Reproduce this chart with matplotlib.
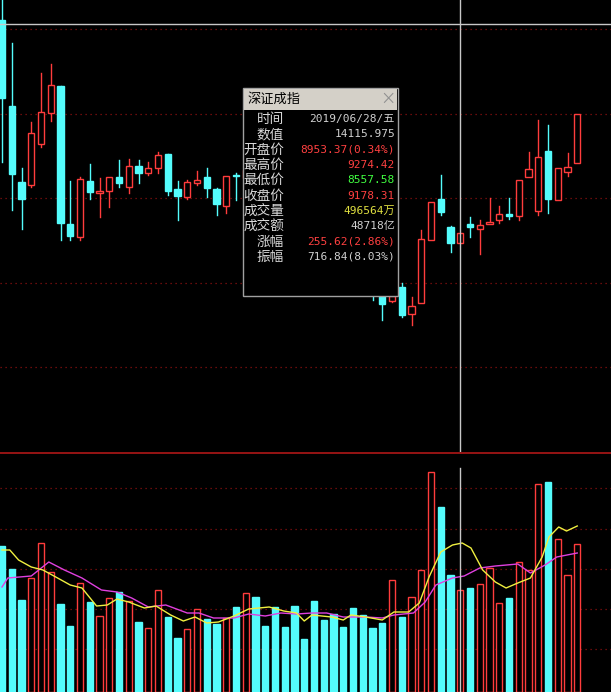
import matplotlib
matplotlib.use("Agg")
import matplotlib.pyplot as plt
from matplotlib.patches import Rectangle
import numpy as np

plt.rcParams['font.family'] = ['Noto Sans CJK SC', 'DejaVu Sans']

# Candle levels (screen level units, larger = lower on screen)
opens  = [20,106,182,185,144,113, 86,224,237,181,193,191,177,187,166,173,168,154,189,197,183,177,189,206,175,
          178,170,175,190,200,210,215,230,245,255,265,270,280,290,296,301,287,314,303,240,199,227,243,224,229,224,220,214,216,177,211,151,200,172,163]
closes = [98,174,199,133,112, 85,223,236,179,192,191,177,183,166,173,168,155,191,196,182,180,188,204,176,175,
          170,176,190,199,211,214,231,244,256,263,272,279,291,292,304,296,315,306,239,202,212,243,233,227,225,222,214,216,180,169,157,199,168,167,114]
highs  = [0, 43,168,122, 73, 64, 86,181,177,164,178,177,160,159,160,162,152,154,181,180,171,168,188,176,173,
          165,165,172,185,195,205,210,225,240,250,260,265,275,285,292,294,283,297,230,202,175,226,233,217,220,198,206,198,180,152,120,125,168,153,114]
lows   = [162,210,229,187,147,121,240,240,240,199,217,207,187,193,183,175,173,195,220,199,185,197,215,213,200,
          182,180,195,205,215,220,235,250,260,268,278,285,295,300,320,302,317,325,303,240,215,252,243,237,254,224,223,219,220,177,215,213,200,176,163]
volumes = [146,123,92,114,149,120,88,66,109,90,76,94,100,91,70,64,102,75,54,63,83,73,68,74,85,
           99,95,66,85,65,86,53,91,72,78,65,84,77,64,69,112,75,95,122,220,185,117,102,104,108,124,89,94,130,122,208,210,153,117,148]
ma5_idx = [0,0.8,1.7,3.0,4.2,5.7,7.0,8.2,9.7,10.8,11.8,13.0,14.6,15.8,17.3,18.6,19.8,21.0,22.2,23.8,25.3,27.4,28.9,30.2,31.0,
           31.8,33.8,35.0,35.8,37.3,39.0,40.2,41.7,42.8,43.8,45.0,46.2,47.2,48.1,49.3,50.6,51.7,52.9,54.2,55.4,56.1,57.1,57.9,59.0]
ma5 = [142,142,132,125,122,114,107,104,86,87,93,90,84,86,77,71,75,69,70,76,83,85,81,79,71,
       77,75,72,77,75,72,80,80,89,115,140,147,149,144,122,110,104,109,114,135,155,165,161,166]
ma10_idx = [0,0.6,3.0,4.8,6.4,8.2,10.2,11.8,13.3,15.0,16.8,19.0,20.2,21.7,23.8,25.3,27.0,28.6,30.2,31.8,33.3,35.0,37.3,39.0,40.2,
            42.2,43.4,44.5,46.2,47.4,49.0,50.6,52.9,54.2,55.7,56.9,59.0]
ma10 = [105,114,116,130,122,114,102,100,94,85,87,79,79,74,74,78,76,79,78,79,79,75,75,74,77,
        79,90,107,114,116,124,126,128,119,127,135,139]
info_labels = ['时间','数值','开盘价','最高价','最低价','收盘价','成交量','成交额','涨幅','振幅']
info_values = ['2019/06/28/五','14115.975','8953.37(0.34%)','9274.42','8557.58','9178.31','496564万','48718亿','255.62(2.86%)','716.84(8.03%)']
info_colors = ['#d0d0d0','#d0d0d0','#ff4040','#ff4040','#40ff40','#ff4040','#e0e040','#d0d0d0','#ff4040','#d0d0d0']
price_grid = [29,114,198,283,367]
vol_grid = [43,83,123,163,204]

W, H = 611, 692
CY = '#54fcfc'; RD = '#ff3c3c'; GRID = '#8a1010'
fig = plt.figure(figsize=(W/100, H/100), dpi=100, facecolor='black')
xl = (-2/9.75, (W-2)/9.75)
ax = fig.add_axes([0, 240/H, 1, 452/H], facecolor='black')
axv = fig.add_axes([0, 0, 1, 240/H], facecolor='black')
for a in (ax, axv):
    a.set_xlim(*xl); a.axis('off')
ax.set_ylim(452, 0)
axv.set_ylim(0, 240)

for g in price_grid:
    ax.axhline(g, color=GRID, ls=(0,(1,3)), lw=0.9, zorder=0)
for g in vol_grid:
    axv.axhline(g, color=GRID, ls=(0,(1,3)), lw=0.9, zorder=0)
axv.axhline(239.5, color='#b01818', lw=1.2)

bw = 0.64
for i,(o,c,h,l) in enumerate(zip(opens,closes,highs,lows)):
    up = c < o
    top, bot = min(o,c), max(o,c)
    hgt = max(bot-top, 1)
    if up:
        ax.plot([i,i],[h,top],color=RD,lw=1,zorder=2)
        ax.plot([i,i],[bot,l],color=RD,lw=1,zorder=2)
        ax.add_patch(Rectangle((i-bw/2,top),bw,hgt,facecolor='black',edgecolor=RD,lw=1,zorder=3))
    else:
        ax.plot([i,i],[h,l],color=CY,lw=1,zorder=2)
        ax.add_patch(Rectangle((i-bw/2,top),bw,hgt,facecolor=CY,edgecolor=CY,lw=1,zorder=3))
    v = volumes[i]
    if up:
        axv.add_patch(Rectangle((i-bw/2,0),bw,v,facecolor='black',edgecolor=RD,lw=1,zorder=2))
    else:
        axv.add_patch(Rectangle((i-bw/2,0),bw,v,facecolor=CY,edgecolor=CY,lw=1,zorder=2))

axv.plot(ma10_idx, ma10, color='#e040e0', lw=1, zorder=4)
axv.plot(ma5_idx, ma5, color='#f0f040', lw=1, zorder=4)

# crosshair
cx = 47
ax.axvline(cx, color='#c8c8c8', lw=1, zorder=5)
ax.axhline(24, color='#c8c8c8', lw=1, zorder=5)
axv.plot([cx,cx],[0,224], color='#c8c8c8', lw=1, zorder=5)

# popup
def fx(x): return x/W
def fy(y): return 1-y/H
fig.patches.append(Rectangle((fx(243),fy(296)),155/W,208/H,transform=fig.transFigure,
                             facecolor='black',edgecolor='#a0a0a0',lw=1,zorder=10))
fig.patches.append(Rectangle((fx(244),fy(110)),153/W,21/H,transform=fig.transFigure,
                             facecolor='#d4d0c8',edgecolor='none',zorder=11))
fig.text(fx(248),fy(99),'深证成指',color='black',fontsize=9.5,va='center',ha='left',zorder=12)
fig.text(fx(388),fy(99),'×',color='#909090',fontsize=11,va='center',ha='center',zorder=12)
for k,(lab,val,col) in enumerate(zip(info_labels,info_values,info_colors)):
    y = 119 + k*15.3
    fig.text(fx(284),fy(y),lab,color='#d8d8d8',fontsize=9.8,ha='right',va='center',zorder=12)
    fig.text(fx(395),fy(y),val,color=col,fontsize=8,ha='right',va='center',zorder=12,
             family=['DejaVu Sans Mono','Noto Sans CJK SC'])

fig.savefig('out.png', dpi=100, facecolor='black')
